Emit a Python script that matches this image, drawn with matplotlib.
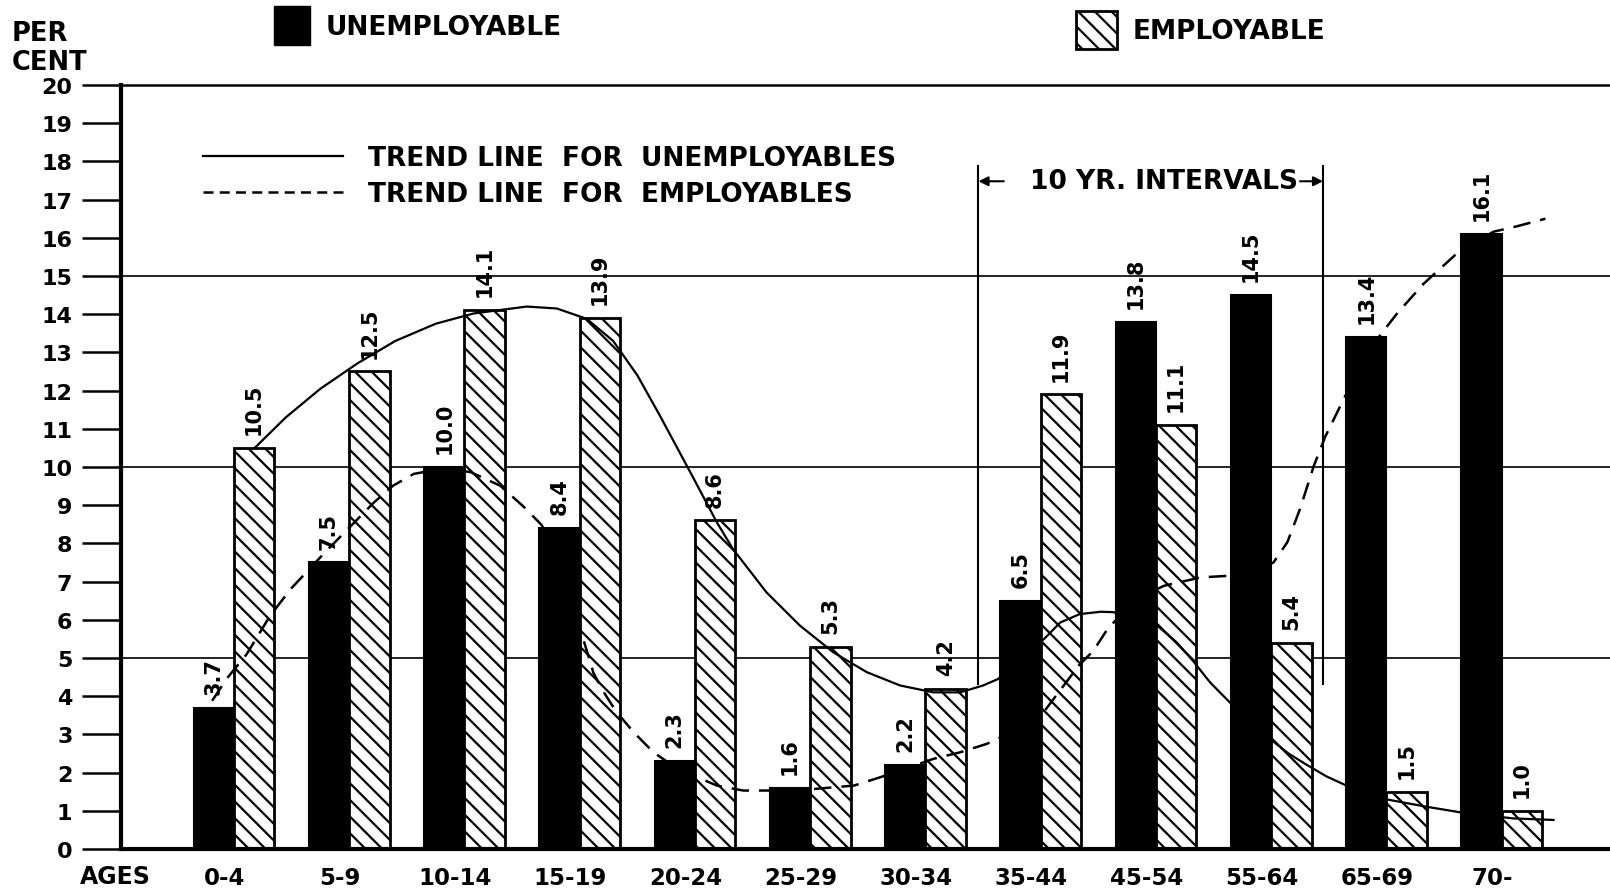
import numpy as np
import matplotlib.pyplot as plt
from matplotlib.patches import Patch
from matplotlib.lines import Line2D

# Per cent of each group by age
ages = ['0-4', '5-9', '10-14', '15-19', '20-24', '25-29', '30-34',
        '35-44', '45-54', '55-64', '65-69', '70-']
unemployable = [3.7, 7.5, 10.0, 8.4, 2.3, 1.6, 2.2, 6.5, 13.8, 14.5, 13.4, 16.1]
employable = [10.5, 12.5, 14.1, 13.9, 8.6, 5.3, 4.2, 11.9, 11.1, 5.4, 1.5, 1.0]

# Hand-drawn trend curves (x in age-group units)
solid_x = [0.18, 0.45, 0.75, 1.07, 1.40, 1.75, 2.08, 2.54, 2.80, 3.06, 3.29, 3.50,
           3.70, 3.99, 4.19, 4.33, 4.62, 4.91, 5.20, 5.49, 5.78, 6.07, 6.30, 6.50,
           6.63, 6.83, 7.03, 7.17, 7.34, 7.52, 7.63, 7.82, 8.01, 8.18, 8.32, 8.47,
           8.64, 8.82, 8.99, 9.15, 9.31, 9.48, 9.66, 10.00, 10.32, 10.64, 11.10, 11.45]
solid_y = [10.50, 11.30, 12.05, 12.71, 13.30, 13.75, 14.02, 14.20, 14.15, 13.88, 13.30, 12.40,
           11.32, 9.69, 8.55, 7.85, 6.72, 5.85, 5.15, 4.63, 4.28, 4.10, 4.10, 4.28,
           4.45, 5.00, 5.50, 5.93, 6.15, 6.21, 6.20, 6.05, 5.85, 5.41, 4.93, 4.36,
           3.84, 3.30, 2.88, 2.50, 2.20, 1.90, 1.65, 1.30, 1.12, 0.96, 0.80, 0.76]
dash_x = [-0.19, -0.06, 0.11, 0.31, 0.49, 0.80, 0.98, 1.21, 1.38, 1.56, 1.80, 2.05,
          2.31, 2.51, 2.67, 2.85, 3.00, 3.12, 3.22, 3.32, 3.47, 3.64, 3.80, 3.99,
          4.19, 4.42, 4.68, 5.03, 5.38, 5.61, 5.90, 6.07, 6.30, 6.53, 6.78, 7.03,
          7.18, 7.33, 7.46, 7.58, 7.75, 7.90, 8.07, 8.39, 8.62, 8.85, 9.02, 9.14,
          9.25, 9.37, 9.47, 9.60, 9.75, 9.92, 10.09, 10.32, 10.64, 10.93, 11.13, 11.38]
dash_y = [3.88, 4.47, 5.10, 6.09, 6.80, 7.80, 8.35, 9.06, 9.51, 9.82, 9.95, 9.87,
          9.51, 8.97, 8.48, 7.30, 5.80, 4.60, 4.05, 3.58, 3.05, 2.53, 2.20, 1.92,
          1.66, 1.53, 1.53, 1.57, 1.66, 1.88, 2.18, 2.36, 2.53, 2.75, 3.10, 3.60,
          4.20, 4.80, 5.20, 5.76, 6.30, 6.65, 6.89, 7.11, 7.15, 7.25, 7.50, 8.03,
          8.90, 10.03, 10.80, 11.60, 12.50, 13.35, 14.01, 14.79, 15.67, 16.16, 16.30, 16.50]

plt.rcParams['font.family'] = 'DejaVu Sans'
plt.rcParams['font.weight'] = 'bold'
plt.rcParams['hatch.linewidth'] = 1.6

fig = plt.figure(figsize=(16.1, 8.95), dpi=100)
ax = fig.add_axes([0.0752, 0.0503, 0.9248, 0.8536])

x = np.arange(len(ages))
w = 0.35
ax.bar(x - w / 2, unemployable, w, color='black', edgecolor='black', linewidth=1.5, zorder=2)
ax.bar(x + w / 2, employable, w, color='white', edgecolor='black', hatch='\\\\',
       linewidth=2, zorder=2)

# value labels, written upright above each bar
for xs, vals in ((x - w / 2, unemployable), (x + w / 2, employable)):
    for xi, v in zip(xs, vals):
        ax.annotate(f'{v:.1f}', (xi, v), xytext=(0, 10), textcoords='offset points',
                    rotation=90, ha='center', va='bottom', fontsize=15)

ax.plot(solid_x, solid_y, color='black', lw=1.6, zorder=3)
ax.plot(dash_x, dash_y, color='black', lw=1.8, dashes=(7, 4), zorder=3)

for v in (5, 10, 15):
    ax.axhline(v, color='black', lw=1.2, zorder=1)

# 10 year interval bracket
ax.vlines([6.46, 9.45], 4.3, 17.9, color='black', lw=1.5)
for x0, x1 in ((6.68, 6.46), (9.25, 9.45)):
    ax.annotate('', xy=(x1, 17.48), xytext=(x0, 17.48),
                arrowprops=dict(arrowstyle='-|>', color='black', lw=1.5,
                                mutation_scale=14, shrinkA=0, shrinkB=0))
ax.text(8.07, 17.48, '10 YR. INTERVALS', ha='center', va='center', fontsize=19)

ax.set_xlim(-0.98, 11.94)
ax.set_ylim(0, 20)
ax.set_yticks(range(21))
ax.tick_params(axis='y', length=28, width=1.8, pad=7, labelsize=16)
ax.set_xticks(x - 0.08, ages)
ax.tick_params(axis='x', length=0, pad=12, labelsize=16.5)

ax.spines['right'].set_visible(False)
ax.spines['top'].set_linewidth(1.8)
ax.spines['left'].set_linewidth(3)
ax.spines['bottom'].set_linewidth(3)

trend_handles = [Line2D([], [], color='black', lw=1.6),
                 Line2D([], [], color='black', lw=1.8, dashes=(4, 2.5))]
ax.legend(trend_handles, ['TREND LINE  FOR  UNEMPLOYABLES', 'TREND LINE  FOR  EMPLOYABLES'],
          loc='upper left', bbox_to_anchor=(203 / 1610, 1 - 146 / 895),
          bbox_transform=fig.transFigure, frameon=False, fontsize=19,
          handlelength=5.3, handletextpad=0.95, labelspacing=0.38,
          borderpad=0, borderaxespad=0)

fig.legend([Patch(facecolor='black', edgecolor='black')], ['UNEMPLOYABLE'],
           loc='upper left', bbox_to_anchor=(274 / 1610, 1 - 7 / 895), frameon=False,
           fontsize=19, handlelength=1.36, handleheight=1.9, handletextpad=0.6,
           borderpad=0, borderaxespad=0)
fig.legend([Patch(facecolor='white', edgecolor='black', hatch='\\\\', linewidth=2)],
           ['EMPLOYABLE'],
           loc='upper left', bbox_to_anchor=(1076 / 1610, 1 - 12 / 895), frameon=False,
           fontsize=19, handlelength=1.55, handleheight=1.84, handletextpad=0.6,
           borderpad=0, borderaxespad=0)

fig.text(12 / 1610, 1 - 21 / 895, 'PER\nCENT', ha='left', va='top', fontsize=18.5,
         linespacing=1.15)
fig.text(80 / 1610, 1 - 877 / 895, 'AGES', ha='left', va='center', fontsize=17)

fig.savefig('out.png', dpi=100)
